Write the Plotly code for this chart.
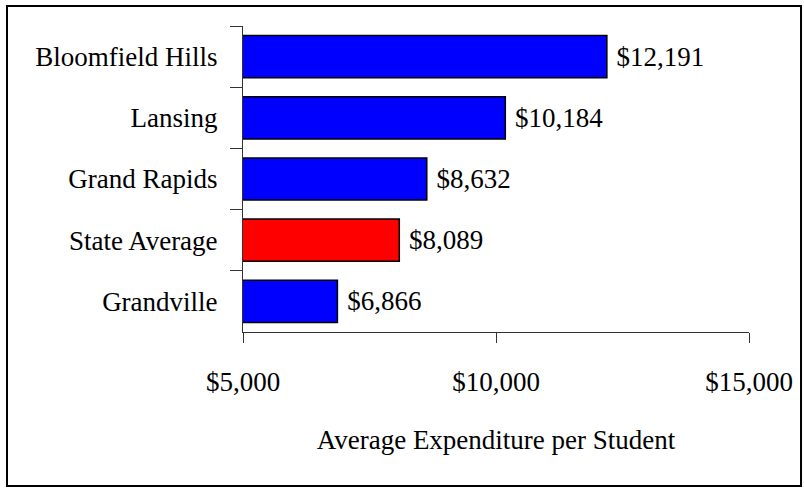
import plotly.graph_objects as go

categories = ["Bloomfield Hills", "Lansing", "Grand Rapids", "State Average", "Grandville"]
values = [12191, 10184, 8632, 8089, 6866]
bar_colors = ["#0000FF", "#0000FF", "#0000FF", "#FF0000", "#0000FF"]
x_ticks = [5000, 10000, 15000]
x_title = "Average Expenditure per Student"

FONT = "Liberation Serif, Times New Roman, serif"

fig = go.Figure(
    go.Bar(
        x=values,
        y=categories,
        orientation="h",
        marker=dict(color=bar_colors, line=dict(color="black", width=1.5)),
        texttemplate=" %{x:$,.0f}",
        textposition="outside",
        constraintext="none",
        cliponaxis=False,
        textfont=dict(family=FONT, size=27, color="black"),
        hoverinfo="skip",
    )
)

fig.update_layout(
    width=804,
    height=489,
    margin=dict(l=243, r=55, t=26, b=157, pad=0),
    paper_bgcolor="white",
    plot_bgcolor="white",
    font=dict(family=FONT, size=27, color="black"),
    bargap=0.31,
    showlegend=False,
    shapes=[
        dict(
            type="rect",
            xref="paper",
            yref="paper",
            x0=-0.4664,
            x1=1.1028,
            y0=-0.503,
            y1=1.0654,
            line=dict(color="black", width=2),
            fillcolor="rgba(0,0,0,0)",
            layer="above",
        )
    ],
)

fig.update_xaxes(
    range=[5000, 15000],
    tickvals=x_ticks,
    tickformat="$,.0f",
    ticks="outside",
    ticklen=10,
    tickcolor="#333",
    showline=True,
    linecolor="#333",
    linewidth=1,
    showgrid=False,
    zeroline=False,
    ticklabelstandoff=16,
    title=dict(text=x_title, font=dict(family=FONT, size=27), standoff=33),
)

fig.update_yaxes(
    categoryorder="array",
    categoryarray=categories,
    autorange="reversed",
    tickson="boundaries",
    ticks="outside",
    ticklen=12,
    tickcolor="#333",
    showline=True,
    linecolor="#333",
    linewidth=1,
    showgrid=False,
    ticklabelstandoff=19,
)

fig.write_html(
    "out.html",
    config={"displayModeBar": False, "staticPlot": True},
    post_script="document.body.style.margin='0';document.body.style.overflow='hidden';",
)
